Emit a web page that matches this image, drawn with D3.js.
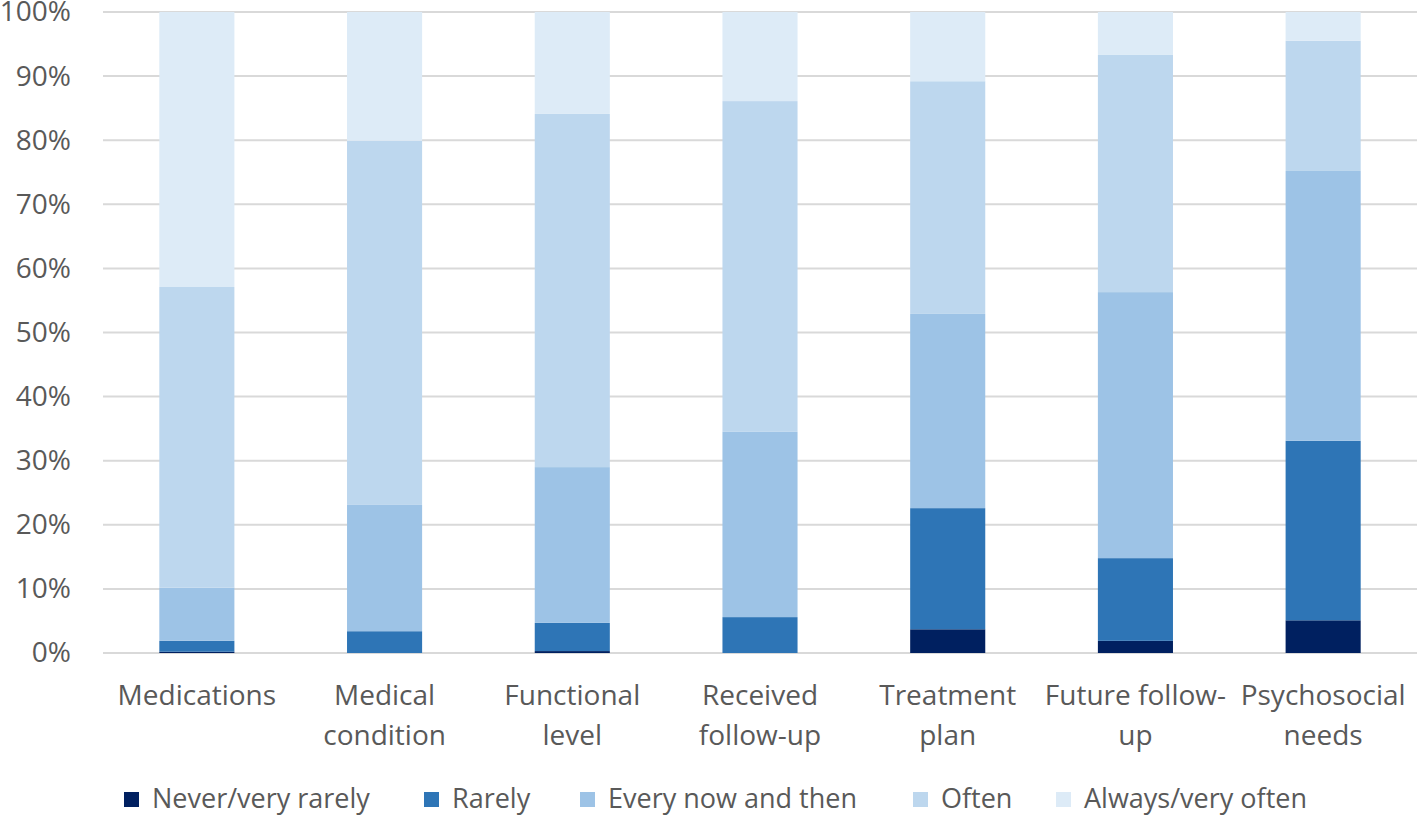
<!DOCTYPE html>
<html><head><meta charset="utf-8">
<script src="https://cdn.jsdelivr.net/npm/d3@7"></script>
<style>body{margin:0;background:#fff}svg{display:block}</style>
</head><body>
<svg id="chart" width="1418" height="816"></svg>
<script>
const categories = [["Medications"],["Medical","condition"],["Functional","level"],["Received","follow-up"],["Treatment","plan"],["Future follow-","up"],["Psychosocial","needs"]];
const seriesNames = ["Never/very rarely","Rarely","Every now and then","Often","Always/very often"];
const neverVeryRarely = [0.2, 0, 0.3, 0, 3.7, 1.9, 5.1];
const rarely = [1.7, 3.4, 4.4, 5.6, 18.9, 12.9, 28.0];
const everyNowAndThen = [8.3, 19.7, 24.3, 28.9, 30.3, 41.5, 42.1];
const often = [46.9, 56.8, 55.1, 51.6, 36.3, 37.0, 20.3];
const alwaysVeryOften = [42.9, 20.1, 15.9, 13.9, 10.8, 6.7, 4.5];
const yTicks = [0,10,20,30,40,50,60,70,80,90,100];
const colors = ["#002060","#2e75b6","#9dc3e6","#bdd7ee","#ddebf7"];

const seriesVals = [neverVeryRarely, rarely, everyNowAndThen, often, alwaysVeryOften];
const rows = categories.map((c,i)=>{const r={key:c.join(" ")};seriesNames.forEach((s,j)=>r[s]=seriesVals[j][i]);return r;});
const stacked = d3.stack().keys(seriesNames)(rows);

const svg = d3.select("#chart");
const m = {left:103, right:1417, top:12, bottom:653};
const x = d3.scaleBand().domain(rows.map(r=>r.key)).range([m.left,m.right]).paddingInner(0.6).paddingOuter(0.3);
const y = d3.scaleLinear().domain([0,100]).range([m.bottom,m.top]);
const font = "'Open Sans', sans-serif";

// gridlines
svg.append("g").selectAll("line").data(yTicks).join("line")
  .attr("x1",m.left).attr("x2",m.right).attr("y1",d=>y(d)).attr("y2",d=>y(d))
  .attr("stroke","#d9d9d9").attr("stroke-width",2);

// y axis labels
const yAxis = d3.axisLeft(y).tickValues(yTicks).tickFormat(d=>d+"%").tickSize(0).tickPadding(0);
const gy = svg.append("g").attr("transform","translate(71,0)").call(yAxis);
gy.select(".domain").remove();
gy.selectAll("text").attr("font-family",font).attr("font-size",28).attr("fill","#595959");

// bars
svg.append("g").selectAll("g").data(stacked).join("g").attr("fill",(d,i)=>colors[i])
  .selectAll("rect").data(d=>d).join("rect")
  .attr("x",d=>x(d.data.key)).attr("width",x.bandwidth())
  .attr("y",d=>y(d[1])).attr("height",d=>Math.max(0,y(d[0])-y(d[1])));

// x labels
const gx = svg.append("g");
categories.forEach((c,i)=>{
  const cx = x(rows[i].key)+x.bandwidth()/2;
  const t = gx.append("text").attr("text-anchor","middle").attr("font-family",font).attr("font-size",28).attr("fill","#595959");
  c.forEach((line,k)=>t.append("tspan").attr("x",cx).attr("y",705+k*40).text(line));
});

// legend
const legendX = [124,424,580,913,1056];
const lg = svg.append("g");
seriesNames.forEach((s,i)=>{
  lg.append("rect").attr("x",legendX[i]).attr("y",792).attr("width",15).attr("height",15).attr("fill",colors[i]);
  lg.append("text").attr("x",legendX[i]+28).attr("y",808).attr("font-family",font).attr("font-size",27).attr("fill","#595959").text(s);
});
</script>
</body></html>
